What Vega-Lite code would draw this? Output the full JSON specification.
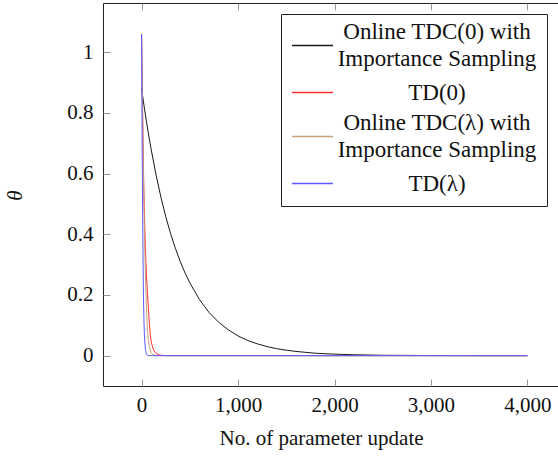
{
  "$schema": "https://vega.github.io/schema/vega-lite/v6.json",
  "width": 463,
  "height": 383,
  "autosize": {"type": "none"},
  "padding": {"left": 103, "top": 3, "right": 0, "bottom": 72},
  "background": "white",
  "config": {
    "view": {"stroke": "#222", "strokeWidth": 1},
    "font": "Liberation Serif",
    "legend": {"labelFont": "Liberation Serif"},
    "axis": {
      "domain": false,
      "grid": false,
      "ticks": true,
      "tickColor": "#999",
      "tickSize": -7,
      "tickWidth": 1,
      "labelFont": "Liberation Serif",
      "labelFontSize": 21,
      "labelColor": "#111",
      "titleFont": "Liberation Serif",
      "titleFontSize": 21,
      "titleFontWeight": "normal",
      "titleColor": "#111"
    }
  },
  "data": {
    "values": [
      {"method": "Online TDC(0) with|Importance Sampling", "update": 0, "theta": 0.88},
      {"method": "Online TDC(0) with|Importance Sampling", "update": 25, "theta": 0.825},
      {"method": "Online TDC(0) with|Importance Sampling", "update": 50, "theta": 0.773},
      {"method": "Online TDC(0) with|Importance Sampling", "update": 75, "theta": 0.724},
      {"method": "Online TDC(0) with|Importance Sampling", "update": 100, "theta": 0.679},
      {"method": "Online TDC(0) with|Importance Sampling", "update": 150, "theta": 0.596},
      {"method": "Online TDC(0) with|Importance Sampling", "update": 200, "theta": 0.523},
      {"method": "Online TDC(0) with|Importance Sampling", "update": 250, "theta": 0.459},
      {"method": "Online TDC(0) with|Importance Sampling", "update": 300, "theta": 0.403},
      {"method": "Online TDC(0) with|Importance Sampling", "update": 350, "theta": 0.354},
      {"method": "Online TDC(0) with|Importance Sampling", "update": 400, "theta": 0.311},
      {"method": "Online TDC(0) with|Importance Sampling", "update": 450, "theta": 0.273},
      {"method": "Online TDC(0) with|Importance Sampling", "update": 500, "theta": 0.24},
      {"method": "Online TDC(0) with|Importance Sampling", "update": 600, "theta": 0.185},
      {"method": "Online TDC(0) with|Importance Sampling", "update": 700, "theta": 0.142},
      {"method": "Online TDC(0) with|Importance Sampling", "update": 800, "theta": 0.11},
      {"method": "Online TDC(0) with|Importance Sampling", "update": 900, "theta": 0.085},
      {"method": "Online TDC(0) with|Importance Sampling", "update": 1000, "theta": 0.065},
      {"method": "Online TDC(0) with|Importance Sampling", "update": 1100, "theta": 0.05},
      {"method": "Online TDC(0) with|Importance Sampling", "update": 1200, "theta": 0.039},
      {"method": "Online TDC(0) with|Importance Sampling", "update": 1300, "theta": 0.03},
      {"method": "Online TDC(0) with|Importance Sampling", "update": 1400, "theta": 0.023},
      {"method": "Online TDC(0) with|Importance Sampling", "update": 1500, "theta": 0.018},
      {"method": "Online TDC(0) with|Importance Sampling", "update": 1600, "theta": 0.014},
      {"method": "Online TDC(0) with|Importance Sampling", "update": 1800, "theta": 0.008},
      {"method": "Online TDC(0) with|Importance Sampling", "update": 2000, "theta": 0.005},
      {"method": "Online TDC(0) with|Importance Sampling", "update": 2200, "theta": 0.003},
      {"method": "Online TDC(0) with|Importance Sampling", "update": 2500, "theta": 0.0013},
      {"method": "Online TDC(0) with|Importance Sampling", "update": 3000, "theta": 0.0004},
      {"method": "Online TDC(0) with|Importance Sampling", "update": 3500, "theta": 0.0001},
      {"method": "Online TDC(0) with|Importance Sampling", "update": 4000, "theta": 0},
      {"method": "TD(0)", "update": 0, "theta": 1.06},
      {"method": "TD(0)", "update": 5, "theta": 0.95},
      {"method": "TD(0)", "update": 10, "theta": 0.82},
      {"method": "TD(0)", "update": 15, "theta": 0.71},
      {"method": "TD(0)", "update": 20, "theta": 0.61},
      {"method": "TD(0)", "update": 25, "theta": 0.53},
      {"method": "TD(0)", "update": 30, "theta": 0.46},
      {"method": "TD(0)", "update": 40, "theta": 0.35},
      {"method": "TD(0)", "update": 50, "theta": 0.27},
      {"method": "TD(0)", "update": 60, "theta": 0.21},
      {"method": "TD(0)", "update": 70, "theta": 0.16},
      {"method": "TD(0)", "update": 80, "theta": 0.11},
      {"method": "TD(0)", "update": 90, "theta": 0.07},
      {"method": "TD(0)", "update": 100, "theta": 0.045},
      {"method": "TD(0)", "update": 120, "theta": 0.022},
      {"method": "TD(0)", "update": 140, "theta": 0.011},
      {"method": "TD(0)", "update": 160, "theta": 0.006},
      {"method": "TD(0)", "update": 180, "theta": 0.003},
      {"method": "TD(0)", "update": 200, "theta": 0.0015},
      {"method": "TD(0)", "update": 250, "theta": 0.0003},
      {"method": "TD(0)", "update": 300, "theta": 0},
      {"method": "TD(0)", "update": 4000, "theta": 0},
      {"method": "Online TDC(λ) with|Importance Sampling", "update": 0, "theta": 1.06},
      {"method": "Online TDC(λ) with|Importance Sampling", "update": 10, "theta": 0.8},
      {"method": "Online TDC(λ) with|Importance Sampling", "update": 20, "theta": 0.58},
      {"method": "Online TDC(λ) with|Importance Sampling", "update": 30, "theta": 0.4},
      {"method": "Online TDC(λ) with|Importance Sampling", "update": 40, "theta": 0.26},
      {"method": "Online TDC(λ) with|Importance Sampling", "update": 50, "theta": 0.16},
      {"method": "Online TDC(λ) with|Importance Sampling", "update": 60, "theta": 0.09},
      {"method": "Online TDC(λ) with|Importance Sampling", "update": 70, "theta": 0.05},
      {"method": "Online TDC(λ) with|Importance Sampling", "update": 80, "theta": 0.03},
      {"method": "Online TDC(λ) with|Importance Sampling", "update": 100, "theta": 0.01},
      {"method": "Online TDC(λ) with|Importance Sampling", "update": 120, "theta": 0.003},
      {"method": "Online TDC(λ) with|Importance Sampling", "update": 150, "theta": 0.0008},
      {"method": "Online TDC(λ) with|Importance Sampling", "update": 200, "theta": 0},
      {"method": "Online TDC(λ) with|Importance Sampling", "update": 4000, "theta": 0},
      {"method": "TD(λ)", "update": 0, "theta": 1.06},
      {"method": "TD(λ)", "update": 5, "theta": 0.75},
      {"method": "TD(λ)", "update": 10, "theta": 0.5},
      {"method": "TD(λ)", "update": 15, "theta": 0.32},
      {"method": "TD(λ)", "update": 20, "theta": 0.19},
      {"method": "TD(λ)", "update": 25, "theta": 0.11},
      {"method": "TD(λ)", "update": 30, "theta": 0.06},
      {"method": "TD(λ)", "update": 40, "theta": 0.02},
      {"method": "TD(λ)", "update": 50, "theta": 0.005},
      {"method": "TD(λ)", "update": 60, "theta": 0.001},
      {"method": "TD(λ)", "update": 80, "theta": 0},
      {"method": "TD(λ)", "update": 4000, "theta": 0}
    ]
  },
  "layer": [
    {
      "mark": {"type": "line", "strokeWidth": 1, "clip": true},
      "encoding": {
        "x": {
          "field": "update",
          "type": "quantitative",
          "scale": {"domain": [-400, 4400], "nice": false, "zero": false},
          "axis": {
            "orient": "bottom",
            "values": [0, 1000, 2000, 3000, 4000],
            "labelExpr": "format(datum.value, ',')",
            "labelFont": "Liberation Serif",
            "labelFontSize": 21,
            "labelPadding": 15,
            "title": "No. of parameter update",
            "titleX": 218,
            "titleY": 52,
            "titleAlign": "center",
            "titleBaseline": "middle"
          }
        },
        "y": {
          "field": "theta",
          "type": "quantitative",
          "scale": {"domain": [-0.1, 1.1625], "nice": false, "zero": false},
          "axis": {
            "orient": "left",
            "values": [0, 0.2, 0.4, 0.6, 0.8, 1],
            "labelExpr": "format(datum.value, '~g')",
            "labelFont": "Liberation Serif",
            "labelFontSize": 21,
            "labelPadding": 17,
            "title": "θ",
            "titleFontStyle": "italic",
            "titleX": -88,
            "titleY": 192,
            "titleAlign": "center",
            "titleBaseline": "middle"
          }
        },
        "color": {
          "field": "method",
          "type": "nominal",
          "sort": null,
          "scale": {
            "domain": ["Online TDC(0) with|Importance Sampling", "TD(0)", "Online TDC(λ) with|Importance Sampling", "TD(λ)"],
            "range": ["#1a1a1a", "#ff3030", "#c8a07a", "#5a5aff"]
          },
          "legend": {
            "orient": "none",
            "legendX": 178,
            "legendY": 11,
            "title": null,
            "symbolType": "stroke",
            "symbolSize": 1681,
            "symbolStrokeWidth": 1.5,
            "labelAlign": "center",
            "labelOffset": 103,
            "labelFont": "Liberation Serif",
            "labelFontSize": 23,
            "labelColor": "#111",
            "labelLimit": 0,
            "labelExpr": "indexof(datum.label, '|') >= 0 ? split(datum.label, '|') : (datum.label == 'TD(λ)' ? ['', datum.label] : ['', datum.label, ''])",
            "strokeColor": "#222",
            "fillColor": "white",
            "padding": 10,
            "rowPadding": 0,
            "encode": {
              "labels": {
                "update": {
                  "lineHeight": {"signal": "indexof(datum.label, '|') >= 0 ? 27 : 7.5"},
                  "dy": {"signal": "indexof(datum.label, '|') >= 0 ? -13.5 : -7.5"}
                }
              }
            }
          }
        }
      }
    },
    {
      "mark": {"type": "point", "opacity": 0},
      "encoding": {
        "x": {
          "field": "update",
          "type": "quantitative",
          "axis": {"orient": "top", "values": [0, 1000, 2000, 3000, 4000], "labels": false, "title": null}
        },
        "y": {
          "field": "theta",
          "type": "quantitative",
          "axis": {"orient": "right", "values": [0, 0.2, 0.4, 0.6, 0.8, 1], "labels": false, "title": null}
        }
      }
    }
  ],
  "resolve": {"axis": {"x": "independent", "y": "independent"}}
}
